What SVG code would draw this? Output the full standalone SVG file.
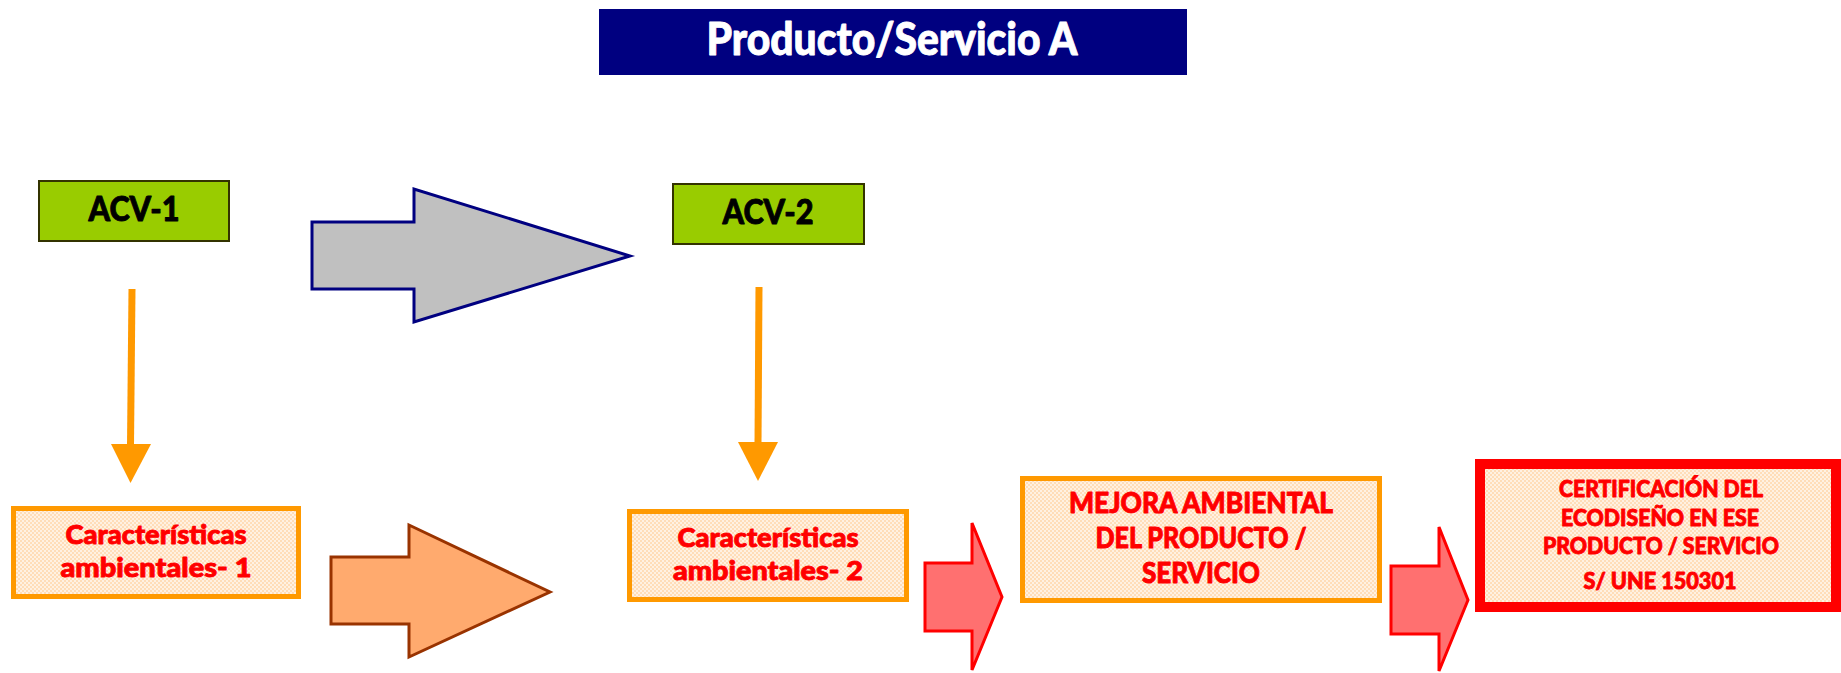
<svg xmlns="http://www.w3.org/2000/svg" width="1841" height="673" viewBox="0 0 1841 673">
<defs>
<pattern id="dots" width="4" height="4" patternUnits="userSpaceOnUse">
<rect width="4" height="4" fill="#FFF1E2"/>
<rect x="0" y="0" width="2" height="2" fill="#FFDDB8"/>
<rect x="2" y="2" width="2" height="2" fill="#FFDDB8"/>
</pattern>
<style>
.t{font-family:Lato,"Open Sans","Liberation Sans",Arial,sans-serif;font-weight:900;text-anchor:middle;stroke-width:0.9;stroke-linejoin:round}
.w{fill:#FFFFFF;stroke:#FFFFFF}
.k{fill:#000000;stroke:#000000}
.red{fill:#FF0000;stroke:#FF0000}
.acv{fill:#99CC00;stroke:#333300;stroke-width:2}
.box{fill:url(#dots);stroke:#FF9900;stroke-width:5}
.conn{stroke:#FF9900;stroke-width:7;fill:none}
.head{fill:#FF9900}
.rarrow{fill:#FF7070;stroke:#FF0000;stroke-width:3}
</style>
</defs>
<rect width="1841" height="673" fill="#FFFFFF"/>
<g id="title">
<rect x="599" y="9" width="588" height="66" fill="#000080"/>
<text class="t w" x="892" y="55" font-size="45" textLength="371" lengthAdjust="spacingAndGlyphs">Producto/Servicio A</text>
</g>
<g id="acv1">
<rect class="acv" x="39" y="181" width="190" height="60"/>
<text class="t k" x="134" y="221" font-size="35" textLength="91" lengthAdjust="spacingAndGlyphs">ACV-1</text>
</g>
<g id="acv2">
<rect class="acv" x="673" y="184" width="191" height="60"/>
<text class="t k" x="768" y="224" font-size="35" textLength="91" lengthAdjust="spacingAndGlyphs">ACV-2</text>
</g>
<g id="car1">
<rect class="box" x="13.5" y="508.5" width="285" height="88"/>
<text class="t red" x="156" y="544" font-size="27" textLength="181" lengthAdjust="spacingAndGlyphs">Características</text>
<text class="t red" x="156" y="577" font-size="27" textLength="191" lengthAdjust="spacingAndGlyphs">ambientales- 1</text>
</g>
<g id="car2">
<rect class="box" x="629.5" y="511.5" width="277" height="88"/>
<text class="t red" x="768" y="547" font-size="27" textLength="181" lengthAdjust="spacingAndGlyphs">Características</text>
<text class="t red" x="768" y="580" font-size="27" textLength="190" lengthAdjust="spacingAndGlyphs">ambientales- 2</text>
</g>
<g id="mejora">
<rect class="box" x="1022.5" y="478.5" width="357" height="122"/>
<text class="t red" x="1201" y="513" font-size="29" textLength="264" lengthAdjust="spacingAndGlyphs">MEJORA AMBIENTAL</text>
<text class="t red" x="1201" y="548" font-size="29" textLength="211" lengthAdjust="spacingAndGlyphs">DEL PRODUCTO /</text>
<text class="t red" x="1201" y="583" font-size="29" textLength="118" lengthAdjust="spacingAndGlyphs">SERVICIO</text>
</g>
<g id="certificacion">
<rect x="1480" y="464" width="356" height="143" fill="url(#dots)" stroke="#FF0000" stroke-width="10"/>
<text class="t red" x="1661" y="497" font-size="23" textLength="204" lengthAdjust="spacingAndGlyphs">CERTIFICACIÓN DEL</text>
<text class="t red" x="1660" y="526" font-size="23" textLength="198" lengthAdjust="spacingAndGlyphs">ECODISEÑO EN ESE</text>
<text class="t red" x="1661" y="554" font-size="23" textLength="236" lengthAdjust="spacingAndGlyphs">PRODUCTO / SERVICIO</text>
<text class="t red" x="1660" y="589" font-size="23" textLength="153" lengthAdjust="spacingAndGlyphs">S/ UNE 150301</text>
</g>
<g id="connectors">
<line class="conn" x1="132" y1="289" x2="130.5" y2="445"/>
<polygon class="head" points="111,444 151,444 130.5,483"/>
<line class="conn" x1="759" y1="287" x2="758" y2="443"/>
<polygon class="head" points="738,442 778,442 758,481"/>
<polygon points="312,222 414,222 414,189 630,256 414,322 414,289 312,289" fill="#C0C0C0" stroke="#000080" stroke-width="3"/>
<polygon points="331,557 409,557 409,525 550,592 409,657 409,624 331,624" fill="#FFAA6E" stroke="#993300" stroke-width="3"/>
<polygon class="rarrow" points="925,563 972,563 972,523 1002,597 972,670 972,631 925,631"/>
<polygon class="rarrow" points="1391,566 1439,566 1439,527 1468,600 1439,671 1439,634 1391,634"/>
</g>
</svg>
